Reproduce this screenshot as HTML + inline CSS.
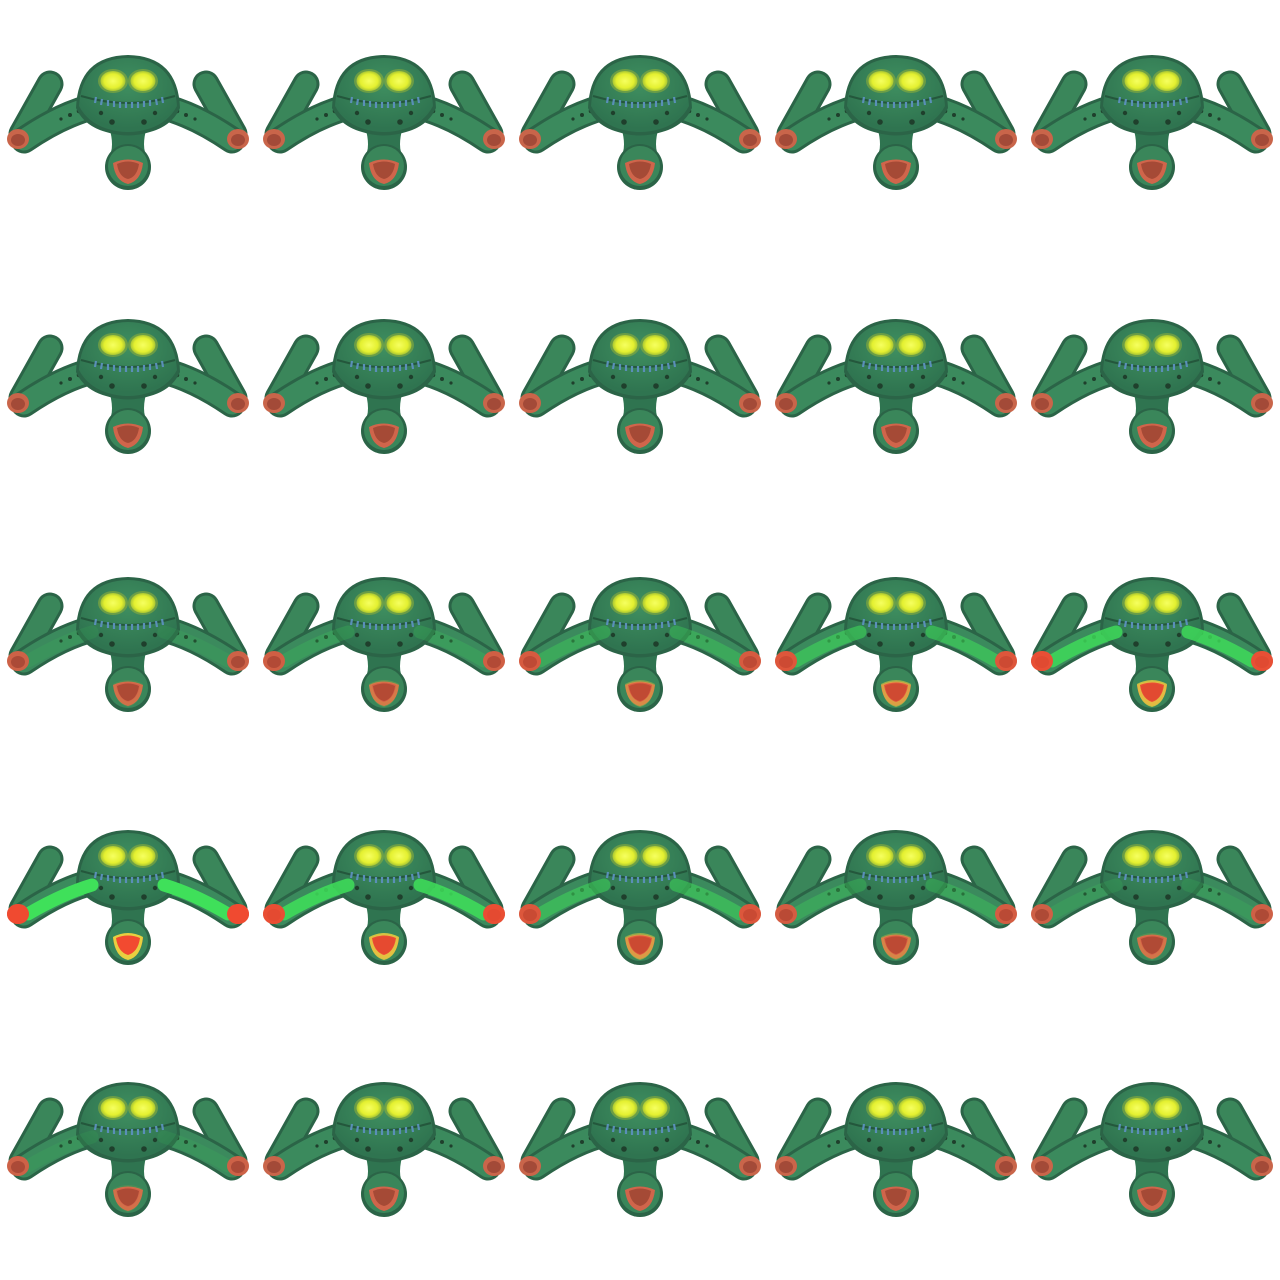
<!DOCTYPE html>
<html><head><meta charset="utf-8">
<style>
html,body{margin:0;padding:0;background:#fff;}
svg{display:block;}
</style></head>
<body>
<svg id="sheet" width="1280" height="1280" viewBox="0 0 1280 1280" xmlns="http://www.w3.org/2000/svg">
<defs>
  <radialGradient id="eyeG" cx="50%" cy="50%" r="50%">
    <stop offset="0" stop-color="#f6ff60"/>
    <stop offset="0.7" stop-color="#e4f030"/>
    <stop offset="1" stop-color="#a8c534"/>
  </radialGradient>
  <radialGradient id="headG" cx="50%" cy="35%" r="60%">
    <stop offset="0" stop-color="#3f8f60"/>
    <stop offset="1" stop-color="#2f7450"/>
  </radialGradient>
  <g id="arm">
    <path d="M50,86 L22,136" stroke="#2b6447" stroke-width="27" stroke-linecap="round" fill="none"/>
    <path d="M50,86 L22,136" stroke="#3a865a" stroke-width="21" stroke-linecap="round" fill="none"/>
    <path d="M96,108 Q62,116 24,142" stroke="#2b6447" stroke-width="27" stroke-linecap="round" fill="none"/>
    <path d="M96,108 Q62,116 24,142" stroke="#3b8a5d" stroke-width="21" stroke-linecap="round" fill="none"/>
    <circle cx="70" cy="117" r="2" fill="#1f3f2c"/>
    <circle cx="79" cy="113" r="2.3" fill="#1f3f2c"/>
    <circle cx="61" cy="121" r="1.6" fill="#1f3f2c"/>
    <ellipse cx="18" cy="141" rx="11" ry="10" fill="#c9654a"/>
    <ellipse cx="18" cy="142" rx="7" ry="6" fill="#a34a38"/>
  </g>
  <g id="armglow">
    <path d="M92,112 Q62,121 28,141" stroke="#3fe05a" stroke-width="13" stroke-linecap="round" fill="none"/>
    <ellipse cx="18" cy="141" rx="11" ry="10" fill="#f04a30"/>
  </g>
  <symbol id="creature" viewBox="0 0 256 256" width="256" height="256">
    <use href="#arm"/>
    <use href="#arm" transform="translate(256,0) scale(-1,1)"/>
    <path d="M108,125 Q116,150 108,160 L148,160 Q140,150 148,125 Z" fill="#2f7450"/>
    <circle cx="128" cy="169" r="23" fill="#2b6447"/>
    <circle cx="128" cy="168" r="20" fill="#3a865a"/>
    <path d="M113,165 Q128,158 143,165 Q141,183 128,186 Q115,183 113,165Z" fill="#d0654b"/>
    <path d="M117,166 Q128,161 139,166 Q137,179 128,181 Q119,179 117,166Z" fill="#a54a36"/>
    <path d="M76,110 Q78,58 128,57 Q178,58 180,110 Q172,128 150,134 Q128,141 106,134 Q84,128 76,110Z" fill="#2b6447"/>
    <path d="M79,108 Q82,61 128,60 Q174,61 177,108 Q168,125 148,131 Q128,137 108,131 Q88,125 79,108Z" fill="url(#headG)"/>
    <path d="M81,98 Q128,112 175,98" stroke="#24573c" stroke-width="2" fill="none"/>
    <g stroke="#5a8fb8" stroke-width="2.2">
      <line x1="96" y1="99" x2="95" y2="105"/><line x1="102" y1="101" x2="101" y2="107"/>
      <line x1="108" y1="102" x2="108" y2="108"/><line x1="114" y1="103" x2="114" y2="109"/>
      <line x1="120" y1="104" x2="120" y2="110"/><line x1="126" y1="104" x2="126" y2="110"/>
      <line x1="132" y1="104" x2="132" y2="110"/><line x1="138" y1="104" x2="138" y2="110"/>
      <line x1="144" y1="103" x2="144" y2="109"/><line x1="150" y1="102" x2="150" y2="108"/>
      <line x1="156" y1="101" x2="157" y2="107"/><line x1="162" y1="99" x2="163" y2="105"/>
    </g>
    <circle cx="112" cy="124" r="2.8" fill="#1f3f2c"/>
    <circle cx="144" cy="124" r="2.8" fill="#1f3f2c"/>
    <circle cx="101" cy="115" r="2.2" fill="#1f3f2c"/>
    <circle cx="155" cy="115" r="2.2" fill="#1f3f2c"/>
    <ellipse cx="113" cy="83" rx="15" ry="12" fill="#8cae3a" opacity="0.6"/>
    <ellipse cx="143" cy="83" rx="15" ry="12" fill="#8cae3a" opacity="0.6"/>
    <ellipse cx="113" cy="83" rx="12.5" ry="10" fill="url(#eyeG)"/>
    <ellipse cx="143" cy="83" rx="12.5" ry="10" fill="url(#eyeG)"/>
  </symbol>
  <symbol id="glow" viewBox="0 0 256 256" width="256" height="256">
    <use href="#armglow"/>
    <use href="#armglow" transform="translate(256,0) scale(-1,1)"/>
    <path d="M113,164 Q128,156 143,164 Q141,184 128,187 Q115,184 113,164Z" fill="#e8d040"/>
    <path d="M116,165 Q128,160 140,165 Q138,179 128,182 Q118,179 116,165Z" fill="#f24a30"/>
  </symbol>
</defs>
<g id="frames"></g>
</svg>
<script>
// per-row vertical offset (px) of sprite within its cell
const rowOffsets = [-2, 6, 8, 5, 1];
// per-frame glow intensity (0..1), 25 frames
const glowLevels = [0,0,0,0,0, 0,0,0,0,0, 0.1,0.2,0.35,0.55,0.8, 1,0.85,0.5,0.3,0.15, 0.1,0,0,0,0];
const cols = 5;
const g = document.getElementById('frames');
const NS = 'http://www.w3.org/2000/svg';
glowLevels.forEach((lvl, i) => {
  const r = Math.floor(i / cols), c = i % cols;
  const fr = document.createElementNS(NS, 'g');
  fr.setAttribute('transform', 'translate(' + (c * 256) + ',' + (r * 256 + rowOffsets[r]) + ')');
  
  
  const u = document.createElementNS(NS, 'use');
  u.setAttribute('href', '#creature');
  fr.appendChild(u);
  if (lvl > 0) {
    const gl = document.createElementNS(NS, 'use');
    gl.setAttribute('href', '#glow');
    gl.setAttribute('opacity', lvl);
    
    
    fr.appendChild(gl);
  }
  g.appendChild(fr);
});
</script>
</body></html>
